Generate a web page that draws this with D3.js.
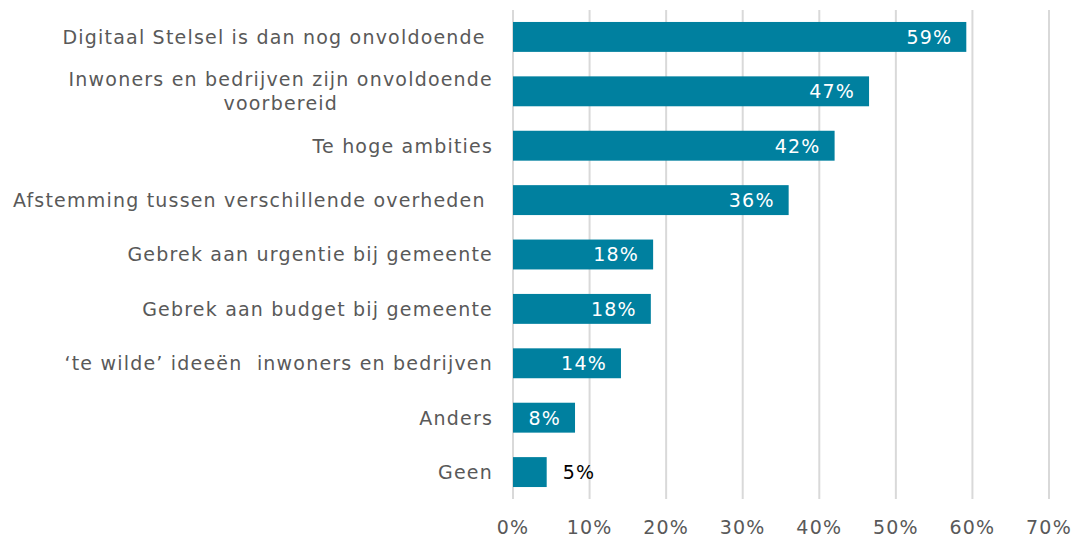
<!DOCTYPE html>
<html>
<head>
<meta charset="utf-8">
<script src="https://cdn.jsdelivr.net/npm/d3@7"></script>
<style>
  body { margin: 0; background: #fff; }
  svg text { font-family: "DejaVu Sans", Verdana, sans-serif; white-space: pre; letter-spacing: 1.2px; }
</style>
</head>
<body>
<div id="chart"></div>
<script>
const categories = [
  "Digitaal Stelsel is dan nog onvoldoende ",
  "Inwoners en bedrijven zijn onvoldoende\nvoorbereid",
  "Te hoge ambities",
  "Afstemming tussen verschillende overheden ",
  "Gebrek aan urgentie bij gemeente",
  "Gebrek aan budget bij gemeente",
  "\u2018te wilde\u2019 ideeën  inwoners en bedrijven",
  "Anders",
  "Geen"
];
const values = [0.592, 0.465, 0.42, 0.36, 0.183, 0.18, 0.141, 0.081, 0.044];
const valueLabels = ["59%", "47%", "42%", "36%", "18%", "18%", "14%", "8%", "5%"];
const ticks = [0, 0.1, 0.2, 0.3, 0.4, 0.5, 0.6, 0.7];

const width = 1077, height = 537;
const margin = { top: 10, right: 28, bottom: 38, left: 513 };

const svg = d3.select("#chart").append("svg")
  .attr("width", width)
  .attr("height", height);

const x = d3.scaleLinear().domain([0, 0.7]).range([margin.left, width - margin.right]);
const y = d3.scaleBand().domain(categories).range([margin.top, height - margin.bottom]).paddingInner(0.45).paddingOuter(0.22);

// gridlines
svg.append("g").selectAll("line")
  .data(ticks)
  .join("line")
  .attr("x1", d => x(d)).attr("x2", d => x(d))
  .attr("y1", margin.top).attr("y2", height - margin.bottom)
  .attr("stroke", "#d9d9d9")
  .attr("stroke-width", 2);

// x tick labels
svg.append("g").selectAll("text")
  .data(ticks)
  .join("text")
  .attr("x", d => x(d))
  .attr("y", 534)
  .attr("text-anchor", "middle")
  .attr("fill", "#595959")
  .style("font-size", "19px")
  .text(d => d3.format(".0%")(d));

// bars
svg.append("g").selectAll("rect")
  .data(categories)
  .join("rect")
  .attr("x", x(0))
  .attr("y", d => y(d))
  .attr("width", (d, i) => x(values[i]) - x(0))
  .attr("height", y.bandwidth())
  .attr("fill", "#00809f");

// value labels
svg.append("g").selectAll("text")
  .data(categories)
  .join("text")
  .attr("x", (d, i) => values[i] < 0.06 ? x(values[i]) + 16 : x(values[i]) - 14)
  .attr("y", d => y(d) + y.bandwidth() / 2)
  .attr("dy", "0.36em")
  .attr("text-anchor", (d, i) => values[i] < 0.06 ? "start" : "end")
  .attr("fill", (d, i) => values[i] < 0.06 ? "#000" : "#fff")
  .style("font-size", "19px")
  .text((d, i) => valueLabels[i]);

// category labels
const labelRight = 493;
const catG = svg.append("g");
categories.forEach(function(c) {
  let lines = c.split("\n");
  let cy = y(c) + y.bandwidth() / 2;
  let t = catG.append("text")
    .attr("fill", "#595959")
    .style("font-size", "19px");
  if (lines.length == 1) {
    t.attr("x", labelRight).attr("y", cy).attr("dy", "0.36em")
      .attr("text-anchor", "end").text(c);
  } else {
    // multi-line: lines centred on each other, block right aligned
    let probe = catG.append("text").style("font-size", "19px").text(lines[0]);
    let w = probe.node().getComputedTextLength();
    probe.remove();
    let lh = 24;
    t.attr("text-anchor", "middle");
    lines.forEach(function(l, j) {
      t.append("tspan")
        .attr("x", labelRight - w / 2)
        .attr("y", cy + (j - (lines.length - 1) / 2) * lh)
        .attr("dy", "0.36em")
        .text(l);
    });
  }
});
</script>
</body>
</html>
